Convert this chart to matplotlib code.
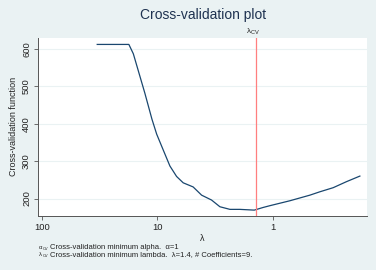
import matplotlib
matplotlib.use("Agg")
import matplotlib.pyplot as plt

plt.rcParams['font.family'] = ['Liberation Sans', 'DejaVu Sans']
plt.rcParams['mathtext.fontset'] = 'custom'
plt.rcParams['mathtext.rm'] = 'Liberation Sans'

# lambda values and cross-validation function
lambdas = [33.1, 17.6, 16.1, 12.8, 11.1, 10.1, 8.87, 7.76, 6.79, 5.95,
           4.88, 4.12, 3.38, 2.86, 2.34, 1.92, 1.44, 1.21, 1.05, 0.708, 0.475,
           0.389, 0.298, 0.229, 0.175]
cv_values = [612, 612, 587, 482, 412, 372, 330, 287, 259, 242,
             231, 209, 196, 178, 171, 171, 169, 176, 181, 194, 209,
             218, 229, 245, 260]
lambda_cv = 1.4
x_ticks = [100, 10, 1]
y_ticks = [200, 300, 400, 500, 600]
note_symbols = ['α', 'λ']
note_texts = ['Cross-validation minimum alpha.  α=1',
              'Cross-validation minimum lambda.  λ=1.4, # Coefficients=9.']

bg = '#eaf2f3'
navy = '#1a476f'

fig = plt.figure(figsize=(3.76, 2.70), dpi=100, facecolor=bg)
ax = fig.add_axes([0.101, 0.201, 0.874, 0.658])
ax.set_facecolor('white')

ax.plot(lambdas, cv_values, color=navy, lw=0.9)
ax.axvline(lambda_cv, color='#ff7f7f', lw=0.9)

ax.set_xscale('log')
ax.set_xlim(108, 0.153)
ax.set_ylim(154, 629)
ax.set_xticks(x_ticks)
ax.set_xticklabels([str(t) for t in x_ticks])
ax.xaxis.set_minor_locator(matplotlib.ticker.NullLocator())
ax.set_yticks(y_ticks)
ax.set_yticklabels([str(t) for t in y_ticks], rotation=90, va='center')
ax.yaxis.grid(True, color=bg, lw=0.8)
ax.set_axisbelow(True)

for s in ['top', 'right']:
    ax.spines[s].set_visible(False)
for s in ['left', 'bottom']:
    ax.spines[s].set_color('#555555')
    ax.spines[s].set_linewidth(0.7)
ax.tick_params(axis='both', labelsize=6.8, length=3, width=0.6, color='#555555',
               pad=2, labelcolor='#222222')

ax.set_xlabel('λ', fontsize=6.5, labelpad=2, color='#222222')
ax.set_ylabel('Cross-validation function', fontsize=6.5, labelpad=3, color='#222222')

ax.annotate(r'λ$_{\mathrm{CV}}$', xy=(lambda_cv, 1), xycoords=('data', 'axes fraction'),
            xytext=(-2, 0.5), textcoords='offset points',
            ha='center', va='bottom', fontsize=5.8, color='#222222')

fig.text(0.539, 0.945, 'Cross-validation plot', ha='center', va='center',
         fontsize=10, color='#1e3250')

# notes below the plot, symbol + small "CV" subscript + text
for i, (sym, txt) in enumerate(zip(note_symbols, note_texts)):
    y = 0.0778 - i * 0.026
    fig.text(0.104, y, sym, fontsize=4.3, color='#222222', va='baseline')
    fig.text(0.1125, y - 0.003, 'CV', fontsize=2.9, color='#222222', va='baseline')
    fig.text(0.133, y, txt, fontsize=5.5, color='#222222', va='baseline')

fig.savefig('out.png', dpi=100, facecolor=bg)
